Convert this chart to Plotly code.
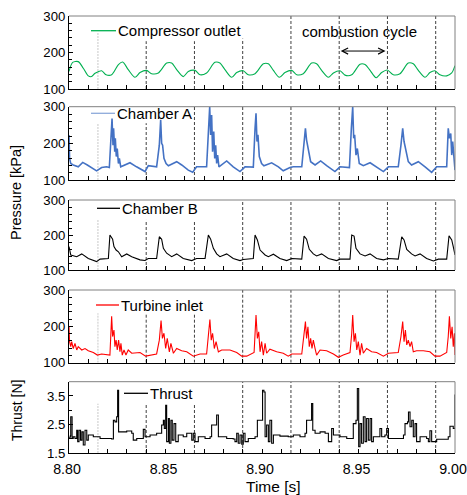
import plotly.graph_objects as go

T0 = 8.80  # start time [s]; sample times below are ms after T0

# ---- Compressor outlet [kPa] ----
comp_ms = [0, 1.9, 4.8, 7.4, 10, 11.7, 13.5, 16.9, 19.2, 22.1, 25.6, 27.8, 30.7, 34.2, 36.8, 40.2, 42.8, 46.3, 50.6, 53.2,
           55.8, 59.2, 61.8, 65.3, 67.9, 71.3, 75.6, 78.2, 80.8, 84.3, 86.9, 90.3, 92.9, 96.4, 100.7, 103.3, 105.9, 109, 111.9, 115.4,
           118, 121.4, 125.7, 128.3, 130.9, 134.4, 137, 140.4, 143, 146.5, 150.8, 153.4, 156, 159.1, 162, 164.9, 168, 171.5, 175.8, 178.4,
           181, 184.5, 187, 189.6, 192.2, 195.7, 198.3, 200]
comp_kpa = [148, 173, 175, 157, 136, 134, 143, 150, 139, 139, 167, 174, 153, 132, 145, 151, 142, 144, 171, 171,
            153, 134, 148, 151, 139, 144, 173, 171, 153, 132, 145, 150, 139, 142, 169, 169, 151, 132, 145, 151,
            139, 142, 171, 169, 151, 132, 144, 150, 138, 139, 168, 167, 151, 131, 145, 152, 139, 142, 171, 169,
            151, 132, 145, 150, 139, 136, 144, 164]

# ---- Chamber A [kPa] ----
a_ms = [0, 0.3, 0.9, 2.2, 4.8, 7.1, 9.5, 12.6, 14.3, 16.9, 19.5, 20.9, 21.8, 22.3, 22.8, 23.1, 23.7, 24, 24.5, 25,
        25.6, 26.1, 26.8, 29, 31.6, 35, 37.7, 39.4, 41.1, 45.4, 46.8, 47.5, 48, 48.5, 49.2, 50.3, 51.5, 55.8, 58.4, 61.8,
        64.1, 66.1, 71.3, 72.4, 72.9, 73.4, 73.9, 74.4, 75, 75.5, 76, 76.5, 77, 77.7, 81.7, 85.1, 88.6, 91.2, 95.5, 96.4,
        96.9, 97.4, 97.9, 98.6, 99.8, 101, 105, 108.5, 111, 114.5, 116.2, 120.6, 121.8, 122.5, 123.1, 124, 125.2, 127.5, 130.4, 133.5,
        137.8, 140.4, 145.3, 146.3, 147, 147.5, 148, 148.7, 149.4, 150.4, 152.5, 156, 159.4, 162.9, 165.5, 170.6, 172, 172.9, 173.6, 174.6,
        175.8, 177.5, 181, 184.5, 187.9, 190.5, 195.7, 196.5, 197.1, 197.8, 198.3, 198.8, 199.5, 200]
a_kpa = [223, 159, 145, 141, 136, 148, 141, 130, 125, 134, 136, 134, 246, 268, 195, 241, 177, 214, 164, 186,
         145, 159, 136, 141, 147, 136, 127, 123, 139, 136, 195, 264, 200, 195, 159, 145, 139, 150, 141, 127,
         121, 136, 136, 241, 300, 223, 277, 177, 232, 159, 195, 145, 168, 136, 152, 136, 123, 136, 135, 241,
         282, 205, 223, 164, 145, 139, 147, 136, 125, 134, 136, 136, 195, 241, 209, 182, 150, 141, 152, 139,
         123, 136, 134, 241, 300, 214, 223, 168, 186, 145, 139, 147, 136, 123, 136, 136, 195, 241, 205, 177,
         150, 141, 150, 136, 121, 136, 136, 241, 214, 227, 168, 205, 159, 127]

# ---- Chamber B [kPa] ----
b_ms = [0, 0.9, 4, 6.6, 10, 14.3, 16.1, 20.4, 21.2, 22.6, 23.3, 24.4, 25.6, 27.3, 29.9, 32.5, 36.8, 39.4, 41.1, 45.4,
        46.8, 48, 48.9, 50.6, 53.2, 55.8, 59.2, 63.6, 66.1, 70.5, 72.2, 73.4, 74.8, 76.5, 78.2, 81.7, 85.1, 88.6, 90.3, 95.5,
        96.4, 97.6, 99, 101.6, 103.3, 105.9, 109.3, 112.8, 115.4, 120.6, 121.8, 123.1, 124.5, 126.6, 128.3, 130.9, 134.4, 138.7, 140.4, 145.6,
        146.5, 147.7, 148.7, 150.8, 153.4, 156, 159.4, 162.9, 165.5, 170.6, 172.4, 173.6, 175, 177.5, 179.3, 181.9, 185.3, 188.8, 191.4, 195.7,
        196.9, 198.3, 199.1, 200]
b_kpa = [167, 143, 138, 146, 133, 124, 131, 133, 200, 188, 167, 157, 152, 138, 146, 138, 129, 127, 133, 133,
         195, 188, 162, 148, 138, 146, 133, 127, 133, 133, 200, 188, 162, 146, 138, 146, 133, 127, 130, 133,
         200, 186, 157, 143, 138, 145, 133, 127, 133, 131, 197, 188, 159, 146, 140, 146, 133, 127, 131, 131,
         200, 197, 162, 146, 140, 146, 133, 129, 133, 131, 195, 186, 159, 146, 140, 146, 133, 126, 131, 131,
         198, 186, 167, 143]

# ---- Turbine inlet [kPa] ----
tur_ms = [0, 0.3, 0.9, 1.4, 2.2, 3.1, 4, 4.8, 6.6, 8.3, 10, 12.6, 14.7, 16.9, 21.2, 22.1, 22.6, 23.3, 23.8, 24.4,
          25, 25.7, 26.4, 26.9, 27.6, 28.5, 29.5, 30.7, 32.5, 36.8, 39.7, 42, 45.4, 46.8, 47.7, 48.4, 49.2, 50.1, 50.9, 52,
          52.8, 54.1, 55.8, 58.4, 61, 64.4, 67.9, 71.3, 72.2, 73, 73.7, 74.4, 75.3, 76.2, 77.4, 79.1, 83.4, 86.9, 89.5, 92.1,
          95.9, 96.4, 96.9, 97.6, 98.3, 99, 99.8, 100.7, 101.6, 102.4, 104.1, 107.6, 111, 113.6, 115.4, 120.6, 121.8, 122.5, 123.1, 123.8,
          124.5, 125.2, 125.9, 126.6, 127.5, 128.3, 130.1, 133.5, 137, 139.6, 142.1, 145.6, 146.5, 147, 147.7, 148.4, 149.1, 149.9, 150.8, 151.6,
          152.5, 154.2, 156.8, 159.4, 162.9, 165.5, 170.6, 172, 172.9, 173.6, 174.3, 175, 175.8, 176.7, 177.5, 178.4, 180.1, 183.6, 187, 189.6,
          192.2, 195.7, 196.5, 197.1, 197.8, 198.5, 199.1, 199.7, 200]
tur_kpa = [199, 158, 144, 158, 139, 153, 135, 144, 135, 139, 133, 128, 121, 124, 121, 228, 172, 190, 144, 162,
           135, 162, 130, 153, 121, 135, 121, 135, 126, 128, 118, 121, 124, 162, 216, 167, 181, 139, 167, 130,
           153, 126, 139, 133, 130, 118, 124, 124, 172, 219, 162, 181, 139, 158, 130, 135, 135, 128, 118, 118,
           128, 172, 231, 167, 185, 130, 158, 121, 153, 126, 137, 130, 126, 118, 124, 124, 172, 213, 167, 199,
           144, 167, 139, 162, 139, 121, 135, 133, 124, 115, 121, 128, 181, 231, 158, 181, 135, 158, 121, 153,
           126, 139, 130, 128, 118, 126, 128, 172, 213, 158, 190, 149, 162, 144, 158, 130, 133, 133, 130, 118,
           118, 128, 172, 228, 167, 199, 144, 181, 121]

# ---- Thrust [N] ----
thr_ms = [0, 0.7, 0.9, 1.4, 1.6, 2.2, 3.1, 4, 4.5, 5.2, 6, 6.7, 7.4, 8.3, 9.2, 10, 12.6, 16.1, 22.1, 23,
          23.8, 24.7, 25.2, 25.7, 26.4, 29.9, 32.5, 33.3, 35.1, 37.7, 38.5, 39.4, 42, 45.4, 48, 48.9, 49.4, 50.1, 50.6, 51.5,
          52, 52.8, 53.5, 54.4, 55.3, 56.6, 59.2, 61, 63.6, 64.4, 65.3, 67, 70.5, 73.1, 73.9, 75.6, 76.5, 77.4, 81.7, 85.1,
          86, 86.9, 87.7, 88.6, 89.5, 90.3, 91.2, 92.9, 96.4, 97.6, 99.8, 100.3, 101, 101.6, 102.4, 103.3, 104.1, 105, 105.9, 109.3,
          113.6, 116.2, 119.7, 122.3, 123.1, 124.9, 125.7, 126.3, 127.5, 130.1, 132.7, 134.4, 136.1, 137, 140.4, 143.9, 147.3, 148.7, 149.4, 150.1,
          150.8, 151.6, 152.5, 153.4, 154.2, 155.1, 156, 156.8, 157.7, 160.3, 161.1, 162, 163.7, 164.6, 165.5, 169.8, 173.3, 174.1, 175.4, 175.9,
          176.7, 177.6, 178.4, 179.3, 180.1, 181.9, 185.3, 186.2, 187, 187.9, 190.5, 194, 196.5, 197.4, 199.1, 200]
thr_n = [2.05, 2.10, 2.77, 2.77, 2.01, 2.07, 2.01, 2.30, 1.90, 2.30, 1.95, 2.24, 1.78, 2.30, 1.95, 2.13, 2.07, 2.01, 1.99, 2.65,
         2.59, 2.77, 3.70, 2.24, 2.24, 2.27, 2.19, 1.95, 2.01, 2.01, 2.33, 2.07, 2.13, 2.19, 2.48, 2.65, 2.36, 3.17, 1.90, 2.71,
         1.84, 2.65, 1.95, 2.53, 1.90, 2.13, 2.07, 2.19, 1.95, 2.19, 1.90, 2.07, 2.01, 2.07, 2.48, 2.48, 2.83, 2.07, 2.01, 1.99,
         1.90, 2.19, 1.84, 2.13, 1.81, 2.19, 1.90, 2.01, 2.07, 2.65, 2.65, 3.70, 3.64, 2.07, 2.48, 1.90, 2.65, 1.84, 2.13, 2.09,
         2.07, 2.13, 2.07, 2.19, 2.65, 2.65, 3.23, 2.30, 2.19, 2.24, 2.19, 1.90, 2.36, 2.13, 2.07, 2.01, 2.53, 2.65, 3.76, 1.72,
         2.53, 1.84, 2.77, 1.90, 2.71, 1.95, 2.71, 1.90, 2.07, 2.07, 2.36, 2.07, 2.13, 2.36, 2.01, 2.01, 2.13, 2.53, 2.59, 2.94,
         2.42, 2.65, 2.07, 2.53, 1.90, 2.07, 2.01, 1.90, 2.28, 1.90, 1.98, 1.98, 2.07, 2.44, 2.36, 3.55]

# axis ticks
x_ticks = [8.80, 8.85, 8.90, 8.95, 9.00]
x_minor = [8.81, 8.82, 8.83, 8.84, 8.86, 8.87, 8.88, 8.89, 8.91, 8.92, 8.93, 8.94, 8.96, 8.97, 8.98, 8.99]

# combustion-cycle markers and the top of each marker line per panel (behind the legend labels)
cycle_t = [8.815, 8.84, 8.865, 8.89, 8.915, 8.94, 8.965, 8.99]
mark_top = [
    [256, 231, 231, 238, 300, 300, 300, 300],
    [255, 255, 300, 300, 300, 300, 300, 300],
    [243, 243, 241, 300, 300, 300, 300, 300],
    [236, 236, 236, 300, 300, 300, 300, 300],
    [3.23, 3.23, 3.23, 4.0, 4.0, 4.0, 4.0, 4.0],
]
cycle_arrow = [8.940, 8.964]
cycle_arrow_kpa = 204

names = ["Compressor outlet", "Chamber A", "Chamber B", "Turbine inlet", "Thrust"]
colors = ["#00b050", "#4472c4", "#000000", "#ff0000", "#000000"]
series = [(comp_ms, comp_kpa), (a_ms, a_kpa), (b_ms, b_kpa), (tur_ms, tur_kpa), (thr_ms, thr_n)]
yranges = [[100, 300]] * 4 + [[1.5, 4.0]]

W, H = 467, 495
px_x = lambda p: p / W
px_y = lambda p: (H - p) / H
panel_px = [(16, 89), (106.7, 180), (200, 270), (290, 362.7), (381.7, 453)]
x_dom = [px_x(69), px_x(455)]

fig = go.Figure()
FONT = "Liberation Sans, Arial, sans-serif"


def ax_id(k):
    return "" if k == 1 else str(k)


for i, ((ms, vals), col) in enumerate(zip(series, colors)):
    k = i + 1
    s = ax_id(k)
    t = [T0 + m / 1000.0 for m in ms]
    fig.add_trace(go.Scatter(
        x=t, y=vals, mode="lines", name=names[i],
        line=dict(color=col, width=1.6 if i == 1 else 1.1,
                  shape="spline" if i == 0 else ("hv" if i == 4 else "linear"),
                  smoothing=0.8),
        xaxis=f"x{s}", yaxis=f"y{s}", showlegend=False, hoverinfo="skip"))

    top, bot = panel_px[i]
    fig.layout[f"xaxis{s}"] = dict(
        domain=x_dom, range=[8.80, 9.00], anchor=f"y{s}",
        showline=True, linecolor="black", linewidth=1, mirror=False,
        tickmode="array", tickvals=x_ticks, ticktext=[f"{v:.2f}" for v in x_ticks],
        ticks="inside", ticklen=4, tickcolor="black",
        minor=dict(tickmode="array", tickvals=x_minor, ticks="inside", ticklen=4, tickcolor="black"),
        showticklabels=(i == 4), ticklabeloverflow="allow", ticklabelshift=-2, ticklabelstandoff=3,
        tickfont=dict(family=FONT, size=14.2, color="black"),
        showgrid=False, zeroline=False, fixedrange=True)
    if i < 4:
        ydt, ymin = 100, 20
    else:
        ydt, ymin = 1, 0.5
    fig.layout[f"yaxis{s}"] = dict(
        domain=[px_y(bot), px_y(top)], range=yranges[i], anchor=f"x{s}",
        showline=True, linecolor="black", linewidth=1,
        ticks="inside", tick0=yranges[i][0], dtick=ydt, ticklen=4, tickcolor="black",
        minor=dict(dtick=ymin, ticks="inside", ticklen=3, tickcolor="black"),
        tickfont=dict(family=FONT, size=13.2, color="black"),
        showgrid=False, zeroline=False, fixedrange=True)

    # top / right frame (gray)
    fig.add_shape(type="line", xref=f"x{s} domain", yref=f"y{s} domain", x0=0, x1=1, y0=1, y1=1,
                  line=dict(color="#808080", width=1))
    fig.add_shape(type="line", xref=f"x{s} domain", yref=f"y{s} domain", x0=1, x1=1, y0=0, y1=1,
                  line=dict(color="#808080", width=1))

    # cycle markers
    for j, tc in enumerate(cycle_t):
        first = j == 0
        fig.add_shape(type="line", xref=f"x{s}", yref=f"y{s}", x0=tc, x1=tc,
                      y0=yranges[i][0], y1=mark_top[i][j], layer="below",
                      line=dict(color="#c8c8c8" if first else "#404040", width=1,
                                dash="2px,1px" if first else "3px,2px"))

# legend-like labels inside each panel
leg_px = [(91, 116, 30.7), (91, 115, 113.3), (97, 120, 208.3), (96, 119, 305), (124, 148, 393.3)]
leg_colors = ["#00b050", "#8eaadb", "#000000", "#ff0000", "#000000"]
for i, (x0, x1, yy) in enumerate(leg_px):
    fig.add_shape(type="line", xref="paper", yref="paper", x0=px_x(x0), x1=px_x(x1),
                  y0=px_y(yy), y1=px_y(yy), line=dict(color=leg_colors[i], width=1.3))
    fig.add_annotation(x=px_x(x1), y=px_y(yy), xref="paper", yref="paper", text=names[i],
                       showarrow=False, xanchor="left", yanchor="middle",
                       font=dict(family=FONT, size=15, color="black"))

# combustion cycle annotation
fig.add_annotation(x=px_x(359), y=px_y(32), xref="paper", yref="paper", text="combustion cycle",
                   showarrow=False, xanchor="center", yanchor="middle",
                   font=dict(family=FONT, size=15, color="black"))
fig.add_annotation(x=cycle_arrow[1], y=cycle_arrow_kpa, ax=cycle_arrow[0], ay=cycle_arrow_kpa,
                   xref="x", yref="y", axref="x", ayref="y", text="", showarrow=True,
                   arrowside="end+start", arrowhead=5, arrowsize=1.2, arrowwidth=1, arrowcolor="black")

# axis titles
fig.add_annotation(x=px_x(16), y=px_y(193), xref="paper", yref="paper", text="Pressure [kPa]",
                   textangle=-90, showarrow=False, xanchor="center", yanchor="middle",
                   font=dict(family=FONT, size=14.5, color="black"))
fig.add_annotation(x=px_x(17), y=px_y(411), xref="paper", yref="paper", text="Thrust [N]",
                   textangle=-90, showarrow=False, xanchor="center", yanchor="middle",
                   font=dict(family=FONT, size=14, color="black"))
fig.add_annotation(x=px_x(273), y=px_y(486), xref="paper", yref="paper", text="Time [s]",
                   showarrow=False, xanchor="center", yanchor="middle", borderpad=0,
                   font=dict(family=FONT, size=15.5, color="black"))

fig.update_layout(
    template="none", width=W, height=H,
    margin=dict(l=0, r=0, t=0, b=0, autoexpand=False),
    paper_bgcolor="white", plot_bgcolor="white",
    font=dict(family=FONT, color="black"),
    showlegend=False,
)

fig.write_html("out.html", config={"displayModeBar": False})
